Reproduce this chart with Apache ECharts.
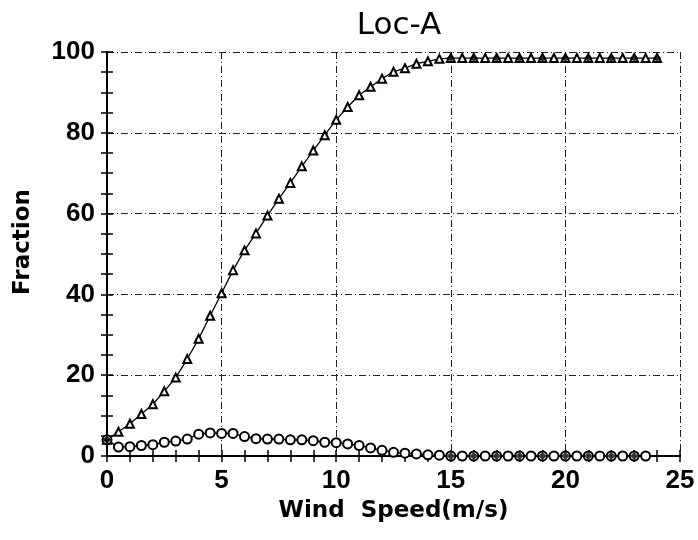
<!DOCTYPE html>
<html>
<head>
<meta charset="utf-8">
<script src="https://cdn.jsdelivr.net/npm/echarts@6/dist/echarts.min.js"></script>
<style>
html,body{margin:0;padding:0;background:#fff;}
#chart{width:698px;height:540px;}
</style>
</head>
<body>
<div id="chart"></div>
<script>
var windSpeed = [0,0.5,1,1.5,2,2.5,3,3.5,4,4.5,5,5.5,6,6.5,7,7.5,8,8.5,9,9.5,10,10.5,11,11.5,12,12.5,13,13.5,14,14.5,15,15.5,16,16.5,17,17.5,18,18.5,19,19.5,20,20.5,21,21.5,22,22.5,23,23.5,24];
var cumulative = [4.0,6.0,8.0,10.4,12.8,16.0,19.4,24.0,29.0,34.7,40.3,46.0,50.9,55.1,59.5,63.7,67.6,71.7,75.6,79.4,83.2,86.4,89.3,91.4,93.4,95.1,96.0,97.1,97.7,98.3,98.5,98.5,98.5,98.5,98.5,98.5,98.5,98.5,98.5,98.5,98.5,98.5,98.5,98.5,98.5,98.5,98.5,98.5,98.5];
var frequency = [4.0,2.2,2.3,2.6,2.8,3.4,3.7,4.2,5.4,5.7,5.6,5.6,4.8,4.3,4.2,4.2,4.0,4.0,3.8,3.4,3.3,3.0,2.6,2.0,1.4,0.9,0.7,0.5,0.3,0.2,0,0,0,0,0,0,0,0,0,0,0,0,0,0,0,0,0,0];
var xTicks = [0,5,10,15,20,25];
var yTicks = [0,20,40,60,80,100];
var titleText = 'Loc-A';
var xName = 'Wind  Speed(m/s)';
var yName = 'Fraction';

function pairs(xs, ys){ var out=[]; for (var i=0;i<ys.length;i++) out.push([xs[i], ys[i]]); return out; }
function filledPts(xs, ys){ var out=[]; for (var i=0;i<ys.length;i++){ if (xs[i]===0 || (xs[i]>=15 && xs[i]%1===0)) out.push([xs[i], ys[i]]);} return out; }

var chart = echarts.init(document.getElementById('chart'), null, {renderer:'canvas'});
var labelFont = {color:'#000', fontSize:26, fontWeight:'bold', fontFamily:'Liberation Sans'};
var gridLine = {show:true, lineStyle:{color:'#222', width:1, type:[7,3,1,3]}};
var axisLine = {show:true, lineStyle:{color:'#000', width:2}};
var tick = {show:true, inside:true, length:6, lineStyle:{color:'#000', width:1.5}};
chart.setOption({
  backgroundColor:'#fff',
  animation:false,
  title:{text:titleText, left:394, top:5, textAlign:'center', textStyle:{fontFamily:'DejaVu Sans', fontSize:31, fontWeight:'normal', color:'#000'}},
  grid:{left:107, right:18, top:52, bottom:84},
  xAxis:[{
    type:'value', min:xTicks[0], max:xTicks[xTicks.length-1], interval:5, position:'bottom',
    axisLine:axisLine, axisTick:tick,
    minorTick:{show:true, splitNumber:5, length:6, lineStyle:{color:'#000', width:1.5}},
    splitLine:gridLine,
    axisLabel:Object.assign({margin:12}, labelFont),
    name:xName, nameLocation:'middle', nameGap:44,
    nameTextStyle:{color:'#000', fontSize:23, fontWeight:'bold', fontFamily:'DejaVu Sans'}
  },{
    type:'value', min:xTicks[0], max:xTicks[xTicks.length-1], interval:5, position:'top',
    axisLine:axisLine, axisTick:tick,
    minorTick:{show:true, splitNumber:5, length:6, lineStyle:{color:'#000', width:1.5}},
    splitLine:{show:false}, axisLabel:{show:false}
  }],
  yAxis:[{
    type:'value', min:yTicks[0], max:yTicks[yTicks.length-1], interval:20, position:'left',
    axisLine:axisLine, axisTick:tick,
    minorTick:{show:true, splitNumber:4, length:6, lineStyle:{color:'#000', width:1.5}},
    splitLine:gridLine,
    axisLabel:Object.assign({margin:12}, labelFont),
    name:yName, nameLocation:'middle', nameGap:72, nameRotate:90,
    nameTextStyle:{color:'#000', fontSize:23, fontWeight:'bold', fontFamily:'DejaVu Sans', padding:[0,0,0,24]}
  },{
    type:'value', min:yTicks[0], max:yTicks[yTicks.length-1], interval:20, position:'right',
    axisLine:axisLine, axisTick:tick,
    minorTick:{show:true, splitNumber:4, length:6, lineStyle:{color:'#000', width:1.5}},
    splitLine:{show:false}, axisLabel:{show:false}
  }],
  series:[{
    name:'cumulative', type:'line', data:pairs(windSpeed, cumulative),
    symbol:'emptyTriangle', symbolSize:8, showAllSymbol:true, clip:false,
    lineStyle:{color:'#000', width:1.3}, itemStyle:{color:'#000', borderWidth:1.5}
  },{
    name:'frequency', type:'line', data:pairs(windSpeed, frequency),
    symbol:'emptyCircle', symbolSize:9, showAllSymbol:true, clip:false,
    lineStyle:{color:'#000', width:1.3}, itemStyle:{color:'#000', borderWidth:1.5}
  },{
    name:'cumFilled', type:'scatter', data:filledPts(windSpeed, cumulative),
    symbol:'diamond', symbolSize:8, clip:false, itemStyle:{color:'#000'}, z:3
  },{
    name:'freqFilled', type:'scatter', data:filledPts(windSpeed, frequency),
    symbol:'diamond', symbolSize:8, clip:false, itemStyle:{color:'#000'}, z:3
  }]
});
</script>
</body>
</html>
